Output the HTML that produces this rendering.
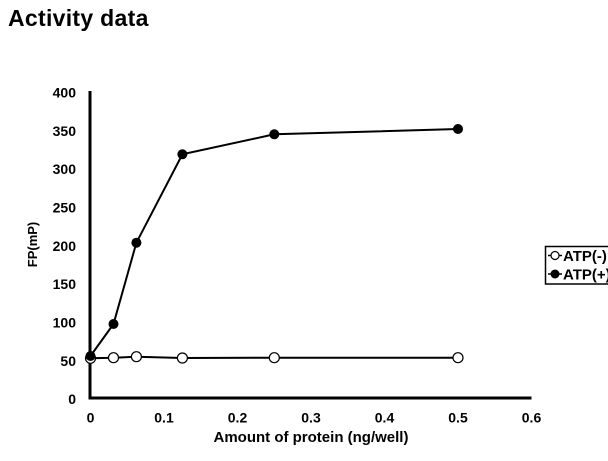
<!DOCTYPE html>
<html>
<head>
<meta charset="utf-8">
<style>
  html, body { margin: 0; padding: 0; background: #fff; }
  body { width: 608px; height: 461px; overflow: hidden; }
  svg { display: block; }
  text { font-family: "Liberation Sans", Arial, sans-serif; font-weight: bold; fill: #000; }
</style>
</head>
<body>
<svg width="608" height="461" viewBox="0 0 608 461" xmlns="http://www.w3.org/2000/svg">
  <rect width="608" height="461" fill="#fff"/>
  <!-- Title -->
  <text x="8" y="26" font-size="23" letter-spacing="0.3">Activity data</text>

  <!-- Axes -->
  <line x1="90" y1="91" x2="90" y2="399.5" stroke="#000" stroke-width="3"/>
  <line x1="88.5" y1="398" x2="531.5" y2="398" stroke="#000" stroke-width="3"/>

  <!-- Y tick labels -->
  <g font-size="14" text-anchor="end">
    <text x="76" y="404">0</text>
    <text x="76" y="366">50</text>
    <text x="76" y="327.5">100</text>
    <text x="76" y="289">150</text>
    <text x="76" y="251">200</text>
    <text x="76" y="212.5">250</text>
    <text x="76" y="174">300</text>
    <text x="76" y="136">350</text>
    <text x="76" y="97.5">400</text>
  </g>

  <!-- X tick labels -->
  <g font-size="14" text-anchor="middle">
    <text x="90.5" y="422.5">0</text>
    <text x="164" y="422.5">0.1</text>
    <text x="237.5" y="422.5">0.2</text>
    <text x="311" y="422.5">0.3</text>
    <text x="384.5" y="422.5">0.4</text>
    <text x="458" y="422.5">0.5</text>
    <text x="531.5" y="422.5">0.6</text>
  </g>

  <!-- Axis titles -->
  <text x="311" y="442" font-size="15" text-anchor="middle">Amount of protein (ng/well)</text>
  <text transform="translate(37,244.5) rotate(-90)" font-size="13" text-anchor="middle">FP(mP)</text>

  <!-- ATP(-) series -->
  <polyline points="90.5,358.3 113.5,357.7 136.4,356.7 182.4,358 274.3,357.7 458,357.7" fill="none" stroke="#000" stroke-width="2"/>
  <g fill="#fff" stroke="#000" stroke-width="1.2">
    <circle cx="90.5" cy="358.3" r="5"/>
    <circle cx="113.5" cy="357.7" r="5"/>
    <circle cx="136.4" cy="356.7" r="5"/>
    <circle cx="182.4" cy="358" r="5"/>
    <circle cx="274.3" cy="357.7" r="5"/>
    <circle cx="458" cy="357.7" r="5"/>
  </g>

  <!-- ATP(+) series -->
  <polyline points="90.5,356 113.5,324 136.4,242.7 182.4,154.3 274.3,134.3 458,129" fill="none" stroke="#000" stroke-width="2"/>
  <g fill="#000">
    <circle cx="90.5" cy="356" r="5"/>
    <circle cx="113.5" cy="324" r="5"/>
    <circle cx="136.4" cy="242.7" r="5"/>
    <circle cx="182.4" cy="154.3" r="5"/>
    <circle cx="274.3" cy="134.3" r="5"/>
    <circle cx="458" cy="129" r="5"/>
  </g>

  <!-- Legend -->
  <rect x="545.5" y="246.5" width="70" height="37.5" fill="#fff" stroke="#000" stroke-width="1.5"/>
  <line x1="548" y1="255.5" x2="562" y2="255.5" stroke="#000" stroke-width="1.5"/>
  <circle cx="555" cy="255.5" r="4" fill="#fff" stroke="#000" stroke-width="1.2"/>
  <text x="563" y="261" font-size="15">ATP(-)</text>
  <line x1="548" y1="274" x2="562" y2="274" stroke="#000" stroke-width="1.5"/>
  <circle cx="555" cy="274" r="4.5" fill="#000"/>
  <text x="563" y="279.5" font-size="15">ATP(+)</text>
</svg>
</body>
</html>
